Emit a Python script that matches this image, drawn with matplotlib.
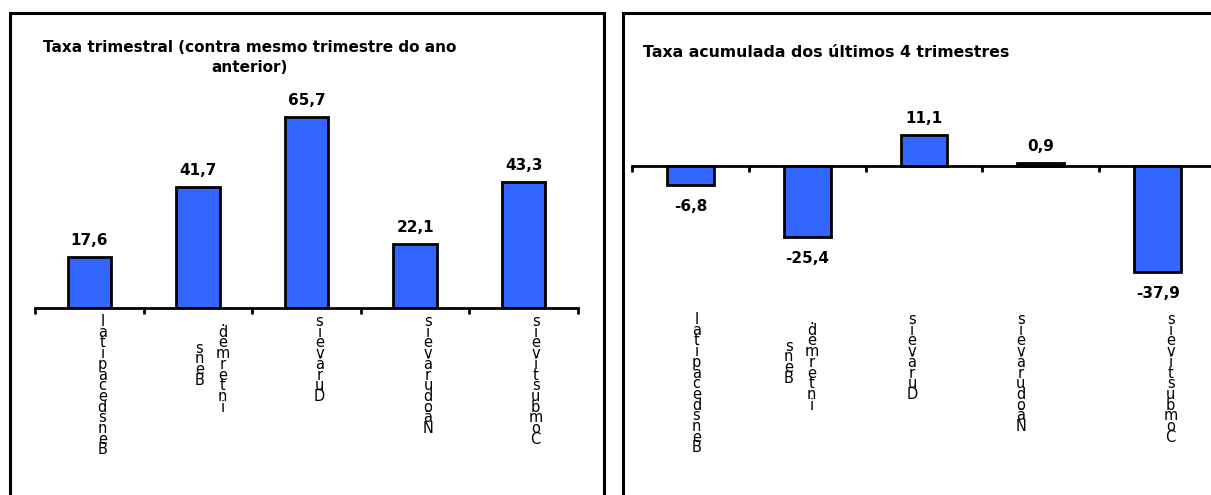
import matplotlib.pyplot as plt
from matplotlib.patches import Rectangle

# dados
categorias = ["Bens de capital", "Bens\nintermed.", "Duráveis", "Não duráveis", "Combustíveis"]
taxa_trimestral = [17.6, 41.7, 65.7, 22.1, 43.3]
taxa_acumulada = [-6.8, -25.4, 11.1, 0.9, -37.9]

W, H = 1211, 495
AZUL = "#3366ff"

fig = plt.figure(figsize=(W / 100, H / 100), dpi=100)


def px(x0, y0, x1, y1):
    # caixa em pixels (origem no topo) -> fração da figura
    return [x0 / W, 1 - y1 / H, (x1 - x0) / W, (y1 - y0) / H]


def moldura(x0, y0, x1, y1):
    r = Rectangle((x0 / W, 1 - y1 / H), (x1 - x0) / W, (y1 - y0) / H,
                  transform=fig.transFigure, fill=False, lw=2.2, ec="black")
    fig.add_artist(r)


def rotulos(ax, labels, desloc):
    # cada caractere empilhado, de baixo para cima
    passo, primeiro, col_gap = 10.7, 18, 23
    for i, lab in enumerate(labels):
        cols = lab.split("\n")
        maior = max(len(c.replace(" ", "")) for c in cols)
        for j, col in enumerate(cols):
            chars = col.replace(" ", "")[::-1]
            dx = desloc[i] + (j - (len(cols) - 1) / 2) * col_gap
            dy0 = primeiro + (maior - len(chars)) * passo / 2
            for k, ch in enumerate(chars):
                ax.annotate(ch, xy=(i, 0), xycoords=("data", "axes fraction"),
                            xytext=(dx, -(dy0 + k * passo)), textcoords="offset pixels",
                            ha="center", va="baseline", fontsize=10.5)


def grafico(ax, valores, ylim):
    x = range(len(valores))
    ax.bar(x, valores, width=0.4, color=AZUL, edgecolor="black", linewidth=2)
    ax.set_xlim(-0.5, len(valores) - 0.5)
    ax.set_ylim(*ylim)
    for s in ["left", "right", "top"]:
        ax.spines[s].set_visible(False)
    ax.spines["bottom"].set_position(("data", 0))
    ax.spines["bottom"].set_linewidth(2)
    ax.set_xticks([i - 0.5 for i in range(len(valores) + 1)])
    ax.set_xticklabels([])
    ax.tick_params(axis="x", direction="out", length=4, width=2)
    ax.set_yticks([])
    ax.patch.set_visible(False)
    for i, v in enumerate(valores):
        txt = f"{v:.1f}".replace(".", ",")
        if v >= 0:
            ax.annotate(txt, xy=(i, v), xytext=(0, 9), textcoords="offset pixels",
                        ha="center", va="bottom", fontsize=11, weight="bold")
        else:
            ax.annotate(txt, xy=(i, v), xytext=(0, -14), textcoords="offset pixels",
                        ha="center", va="top", fontsize=11, weight="bold")


moldura(10, 13, 604, H + 20)
moldura(623, 13, W + 20, H + 20)

ax1 = fig.add_axes(px(35, 105, 578, 308))
grafico(ax1, taxa_trimestral, (0, 70))
rotulos(ax1, categorias, [13, 13, 13, 13, 12])

ax2 = fig.add_axes(px(632, 110, 1216, 306))
grafico(ax2, taxa_acumulada, (-50, 20))
rotulos(ax2, categorias, [6, -7, -12, -20, 13])

fig.text(250 / W, 1 - 40 / H, "Taxa trimestral (contra mesmo trimestre do ano\nanterior)",
         ha="center", va="top", multialignment="center", fontsize=11, weight="bold",
         linespacing=1.45)
fig.text(643 / W, 1 - 45 / H, "Taxa acumulada dos últimos 4 trimestres",
         ha="left", va="top", fontsize=11.3, weight="bold")

fig.savefig("out.png", dpi=100)
